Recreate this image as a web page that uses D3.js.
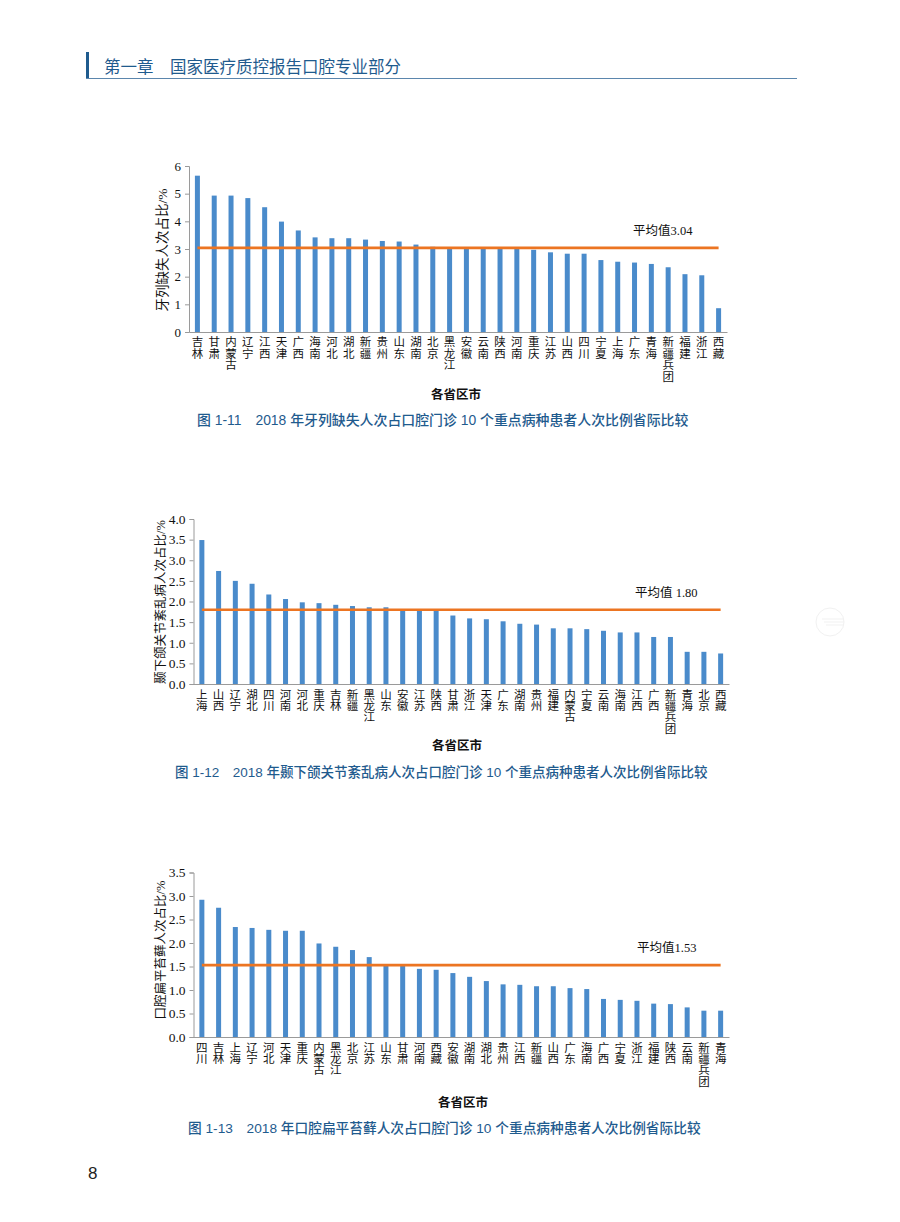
<!DOCTYPE html>
<html><head><meta charset="utf-8">
<script src="https://cdn.jsdelivr.net/npm/d3@7/dist/d3.min.js"></script>
<style>
html,body{margin:0;padding:0;background:#fff;}
svg{display:block;}
</style></head>
<body>
<svg id="page" width="900" height="1222"></svg>
<script>
// ---------- DATA ----------
const headerChapter = "第一章";
const headerTitle = "国家医疗质控报告口腔专业部分";
const xAxisTitle = "各省区市";

// Chart 1-11
const cats1 = ["吉林","甘肃","内蒙古","辽宁","江西","天津","广西","海南","河北","湖北","新疆","贵州","山东","湖南","北京","黑龙江","安徽","云南","陕西","河南","重庆","江苏","山西","四川","宁夏","上海","广东","青海","新疆兵团","福建","浙江","西藏"];
const vals1 = [5.65,4.93,4.93,4.84,4.51,3.99,3.67,3.42,3.39,3.39,3.34,3.29,3.27,3.16,3.08,3.06,3.05,3.05,3.04,3.03,2.97,2.88,2.83,2.83,2.60,2.54,2.51,2.46,2.34,2.09,2.05,0.86];
const avg1 = 3.04;
const avgLabel1 = "平均值3.04";
const yTicks1 = [0,1,2,3,4,5,6];
const yTitle1 = "牙列缺失人次占比/%";
const caption1 = "图 1-11　2018 年牙列缺失人次占口腔门诊 10 个重点病种患者人次比例省际比较";

// Chart 1-12
const cats2 = ["上海","山西","辽宁","湖北","四川","河南","河北","重庆","吉林","新疆","黑龙江","山东","安徽","江苏","陕西","甘肃","浙江","天津","广东","湖南","贵州","福建","内蒙古","宁夏","云南","海南","江西","广西","新疆兵团","青海","北京","西藏"];
const vals2 = [3.49,2.74,2.50,2.43,2.17,2.06,1.98,1.96,1.92,1.89,1.86,1.86,1.79,1.78,1.78,1.66,1.59,1.57,1.52,1.46,1.44,1.35,1.35,1.33,1.29,1.25,1.25,1.14,1.14,0.78,0.78,0.74];
const avg2 = 1.80;
const avgLabel2 = "平均值 1.80";
const yTicks2 = [0,0.5,1.0,1.5,2.0,2.5,3.0,3.5,4.0];
const yTitle2 = "颞下颌关节紊乱病人次占比/%";
const caption2 = "图 1-12　2018 年颞下颌关节紊乱病人次占口腔门诊 10 个重点病种患者人次比例省际比较";

// Chart 1-13
const cats3 = ["四川","吉林","上海","辽宁","河北","天津","重庆","内蒙古","黑龙江","北京","江苏","山东","甘肃","河南","西藏","安徽","湖南","湖北","贵州","江西","新疆","山西","广东","海南","广西","宁夏","浙江","福建","陕西","云南","新疆兵团","青海"];
const vals3 = [2.92,2.75,2.34,2.32,2.28,2.26,2.26,1.99,1.92,1.85,1.70,1.52,1.52,1.45,1.43,1.36,1.28,1.19,1.12,1.11,1.08,1.08,1.04,1.02,0.81,0.79,0.77,0.71,0.70,0.63,0.56,0.56];
const avg3 = 1.53;
const avgLabel3 = "平均值1.53";
const yTicks3 = [0,0.5,1.0,1.5,2.0,2.5,3.0,3.5];
const yTitle3 = "口腔扁平苔藓人次占比/%";
const caption3 = "图 1-13　2018 年口腔扁平苔藓人次占口腔门诊 10 个重点病种患者人次比例省际比较";

const pageNumber = "8";

// ---------- STYLE ----------
const BAR = "#4a8bcb";
const AVG = "#ec7522";
const AXIS = "#9a9a9a";
const BLUE = "#1f5b8e";
const SERIF = "'Liberation Serif','Times New Roman','Noto Sans CJK SC',serif";
const CJK = "'Liberation Serif','Noto Sans CJK SC',serif";
const SANS = "'Liberation Sans','Noto Sans CJK SC',sans-serif";

const svg = d3.select("#page");

// header
svg.append("rect").attr("x",86).attr("y",52).attr("width",3).attr("height",27).attr("fill",BLUE);
svg.append("line").attr("x1",86).attr("x2",797).attr("y1",78.5).attr("y2",78.5)
  .attr("stroke","#5b86ad").attr("stroke-width",1.2);
svg.append("text").attr("x",104).attr("y",73).attr("fill",BLUE)
  .attr("font-family",SANS).attr("font-size",16.5).text(headerChapter);
svg.append("text").attr("x",170).attr("y",73).attr("fill",BLUE)
  .attr("font-family",SANS).attr("font-size",16.5).text(headerTitle);

// page number
svg.append("text").attr("x",88).attr("y",1179).attr("fill","#222")
  .attr("font-family",SANS).attr("font-size",17).text(pageNumber);

// very faint watermark
const wm = svg.append("g").attr("transform","translate(830,622)").attr("fill","none").attr("stroke","#f1f1f1").attr("stroke-width",1);
wm.append("circle").attr("r",14);
[-3,0,3].forEach((dy,i)=>wm.append("line").attr("x1",-8+i*2).attr("x2",14).attr("y1",dy).attr("y2",dy));

function drawChart(cfg){
  const g = svg.append("g");
  const x = d3.scaleBand().domain(cfg.cats).range([cfg.x0, cfg.x1]).paddingInner(0).paddingOuter(0);
  const y = d3.scaleLinear().domain([0, cfg.yMax]).range([cfg.yBottom, cfg.yTop]);

  // bars
  g.selectAll("rect.bar").data(cfg.vals).join("rect").attr("class","bar")
    .attr("x",(d,i)=>x(cfg.cats[i]) + x.bandwidth()/2 - cfg.barW/2)
    .attr("width",cfg.barW)
    .attr("y",d=>y(d)).attr("height",d=>y(0)-y(d))
    .attr("fill",BAR);

  // y axis
  const yAxis = d3.axisLeft(y).tickValues(cfg.yTicks).tickSize(4).tickPadding(4)
    .tickFormat(cfg.fmt);
  const ya = g.append("g").attr("transform",`translate(${cfg.x0},0)`).call(yAxis);
  ya.select(".domain").attr("stroke",AXIS);
  ya.selectAll(".tick line").attr("stroke",AXIS);
  ya.selectAll(".tick text").attr("fill","#111").attr("font-family",SERIF).attr("font-size",cfg.tickFs);

  // x axis
  const xAxis = d3.axisBottom(x).tickSize(0).tickFormat("");
  const xa = g.append("g").attr("transform",`translate(0,${cfg.yBottom})`).call(xAxis);
  xa.select(".domain").attr("stroke",AXIS);

  // vertical category labels
  cfg.cats.forEach(c=>{
    const t = g.append("text").attr("text-anchor","middle").attr("fill","#111")
      .attr("font-family",CJK).attr("font-size",cfg.catFs);
    Array.from(c).forEach((ch,k)=>{
      t.append("tspan").attr("x",x(c)+x.bandwidth()/2)
       .attr("y",cfg.yBottom + cfg.catOff + k*cfg.catPitch).text(ch);
    });
  });

  // average line
  const line = d3.line().x(c=>x(c)+x.bandwidth()/2).y(()=>y(cfg.avg));
  g.append("path").datum([cfg.cats[0], cfg.cats[cfg.cats.length-1]])
    .attr("d",line).attr("stroke",AVG).attr("stroke-width",2.6).attr("fill","none");
  g.append("text").attr("x",cfg.avgX).attr("y",y(cfg.avg)+cfg.avgDy)
    .attr("font-family",CJK).attr("font-size",cfg.avgFs).attr("fill","#111").text(cfg.avgLabel);

  // y title
  g.append("text").attr("transform",`translate(${cfg.yTitleX},${cfg.yTitleY}) rotate(-90)`)
    .attr("text-anchor","middle").attr("font-family",CJK).attr("font-size",cfg.yTitleFs)
    .attr("fill","#111").text(cfg.yTitle);

  // x title
  g.append("text").attr("x",cfg.xTitleX).attr("y",cfg.xTitleY).attr("text-anchor","middle")
    .attr("font-family",CJK).attr("font-size",12.5).attr("font-weight","bold").attr("fill","#111").text(xAxisTitle);

  // caption
  g.append("text").attr("x",cfg.capX).attr("y",cfg.capY).attr("font-family",SANS)
    .attr("font-size",cfg.capFs).attr("font-weight",500).attr("fill",BLUE).text(cfg.caption);
}

drawChart({cats:cats1, vals:vals1, avg:avg1, avgLabel:avgLabel1, yTicks:yTicks1, yMax:6,
  fmt:d3.format("d"), x0:189, x1:727, yBottom:332, yTop:166, barW:5, tickFs:13,
  catFs:11.5, catOff:14, catPitch:11.7, avgX:633, avgDy:-13, avgFs:12.5,
  yTitle:yTitle1, yTitleX:167, yTitleY:250, yTitleFs:13.5,
  xTitleX:456, xTitleY:399, caption:caption1, capX:197, capY:425, capFs:13.9});

drawChart({cats:cats2, vals:vals2, avg:avg2, avgLabel:avgLabel2, yTicks:yTicks2, yMax:4,
  fmt:d3.format(".1f"), x0:193.5, x1:729, yBottom:684, yTop:519, barW:5, tickFs:13.5,
  catFs:11.5, catOff:15, catPitch:11.2, avgX:635, avgDy:-13, avgFs:12.5,
  yTitle:yTitle2, yTitleX:165, yTitleY:602, yTitleFs:12.5,
  xTitleX:457, xTitleY:750, caption:caption2, capX:175, capY:777, capFs:13.5});

drawChart({cats:cats3, vals:vals3, avg:avg3, avgLabel:avgLabel3, yTicks:yTicks3, yMax:3.5,
  fmt:d3.format(".1f"), x0:193.5, x1:729, yBottom:1037, yTop:872.5, barW:5, tickFs:13.5,
  catFs:11.5, catOff:15, catPitch:11.2, avgX:637, avgDy:-13, avgFs:12.5,
  yTitle:yTitle3, yTitleX:165, yTitleY:950, yTitleFs:12.5,
  xTitleX:463, xTitleY:1107, caption:caption3, capX:188, capY:1133, capFs:13.7});
</script>
</body></html>
